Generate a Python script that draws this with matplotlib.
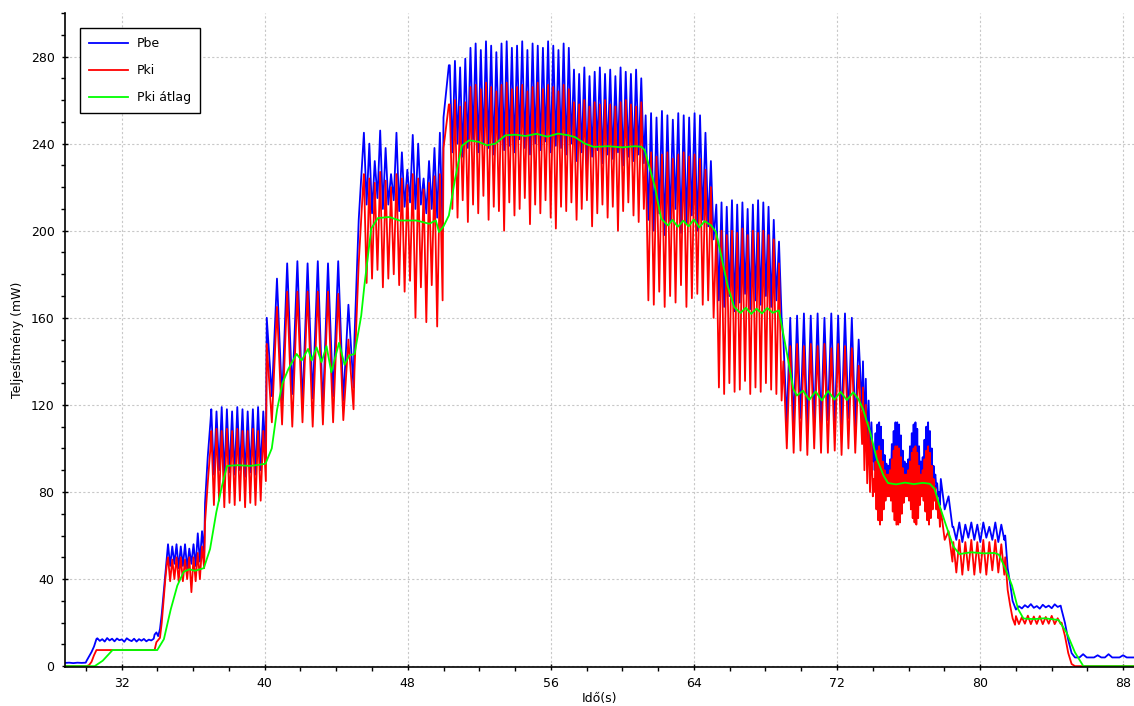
import numpy as np
import matplotlib.pyplot as plt
from matplotlib.ticker import MultipleLocator

# --- Pbe / Pki read off the picture, chunk by chunk (time span + sampled values) ---
# flat / transition chunks
pbe_a = [1.5, 1.6, 1.4, 1.6, 1.5, 1.6]
pki_a = [0.0, 0.0]
pbe_b = [2.5, 4.5, 6.5, 9.0, 12.5]
pki_b = [0.0, 0.5, 2.0, 5.0, 7.4]
pbe_c = [12.8, 11.6, 12.4, 11.3, 12.9, 11.8, 12.6, 11.4, 12.7, 11.9, 12.3, 11.2,
         12.8, 12.0, 11.5, 12.6, 11.3, 12.4, 11.7, 12.5, 11.4, 12.2, 11.8, 12.6]
pki_c = [7.4, 7.4]
pbe_d = [14.5, 15.5, 13.8, 17.0, 24.0, 33.0, 42.0, 51.0]
pki_d = [7.4, 11.0, 12.0, 13.0, 20.0, 30.0, 40.0, 48.0]

# oscillating chunks: peaks (hi) and troughs (lo)
pbe_e_hi = [56, 55, 56, 55, 56, 54, 56, 61, 62]
pbe_e_lo = [46, 47, 45, 46, 45, 47, 46, 48, 52]
pki_e_hi = [50, 49, 50, 50, 49, 50, 50, 52, 55]
pki_e_lo = [39, 40, 39, 39, 40, 34, 39, 40, 45]

pbe_f = [75, 96, 112]
pki_f = [66, 84, 100]

pbe_g_hi = [118, 117, 119, 118, 117, 119, 118, 117, 118, 119, 117]
pbe_g_lo = [88, 90, 87, 89, 88, 90, 87, 89, 88, 90, 95]
pki_g_hi = [108, 109, 108, 109, 108, 109, 108, 108, 109, 108, 108]
pki_g_lo = [74, 76, 73, 75, 74, 76, 73, 75, 74, 76, 85]

pbe_h_hi = [160, 178, 185, 186, 185, 186, 185, 186, 166]
pbe_h_lo = [124, 122, 125, 120, 123, 118, 124, 122, 128]
pki_h_hi = [148, 165, 172, 172, 172, 172, 172, 171, 150]
pki_h_lo = [112, 111, 110, 112, 110, 111, 112, 113, 118]

pbe_i = [150, 205, 238]
pki_i = [135, 185, 220]

pbe_j_hi = [245, 240, 232, 246, 238, 226, 245, 236, 228, 244, 240, 224, 232, 238, 245]
pbe_j_lo = [212, 208, 215, 210, 212, 214, 209, 211, 213, 210, 212, 208, 210, 206, 200]
pki_j_hi = [226, 224, 222, 227, 223, 220, 226, 224, 221, 226, 224, 219, 222, 225, 226]
pki_j_lo = [176, 178, 182, 174, 178, 180, 175, 172, 177, 160, 174, 158, 175, 156, 168]

pbe_k = [252, 276]
pki_k = [238, 258]

pbe_l_hi = [276, 278, 275, 279, 284, 286, 283, 287, 285, 282,
            286, 287, 284, 285, 287, 283, 286, 285, 284, 287,
            285, 283, 286, 284, 274, 272, 275, 271, 273, 275,
            272, 274, 271, 275, 273, 272, 274, 270]
pbe_l_lo = [236, 240, 234, 238, 242, 236, 240, 238, 235, 241,
            237, 239, 236, 242, 238, 235, 240, 237, 241, 236,
            239, 238, 235, 240, 232, 236, 230, 234, 237, 231,
            235, 233, 236, 230, 234, 232, 235, 231]
pki_l_hi = [258, 260, 257, 259, 266, 267, 265, 268, 266, 264,
            267, 268, 265, 266, 267, 264, 266, 268, 265, 267,
            266, 264, 267, 265, 259, 258, 260, 257, 259, 258,
            260, 258, 257, 259, 260, 258, 257, 259]
pki_l_lo = [210, 206, 214, 204, 212, 208, 216, 205, 211, 209,
            200, 213, 207, 210, 215, 203, 212, 208, 214, 206,
            201, 211, 209, 213, 205, 210, 214, 202, 208, 212,
            206, 211, 200, 209, 213, 207, 204, 210]

pbe_n_hi = [253, 254, 252, 255, 253, 251, 254, 253, 252, 254, 253, 245, 232]
pbe_n_lo = [205, 200, 208, 198, 204, 210, 199, 203, 207, 200, 205, 202, 196]
pki_n_hi = [235, 236, 234, 235, 236, 233, 235, 236, 234, 235, 233, 228, 220]
pki_n_lo = [168, 166, 172, 165, 170, 167, 175, 165, 169, 171, 166, 168, 160]

pbe_p_hi = [212, 213, 211, 214, 212, 213, 210, 212, 214, 213, 211, 205, 195]
pbe_p_lo = [168, 165, 170, 163, 167, 171, 164, 168, 166, 170, 165, 168, 160]
pki_p_hi = [199, 200, 198, 200, 199, 201, 198, 200, 199, 200, 198, 196, 185]
pki_p_lo = [128, 125, 130, 126, 127, 131, 125, 128, 126, 130, 127, 125, 122]

pbe_r_hi = [150, 160, 161, 162, 161, 162, 160, 162, 161, 162, 160, 150]
pbe_r_lo = [112, 110, 114, 108, 112, 110, 113, 109, 111, 114, 110, 118]
pki_r_hi = [140, 147, 148, 147, 148, 147, 148, 146, 148, 147, 146, 138]
pki_r_lo = [100, 98, 99, 97, 100, 98, 98, 99, 97, 100, 98, 102]

pbe_s = [140, 108, 132, 100, 122, 96, 112, 94]
pki_s = [128, 90, 120, 84, 112, 80, 104, 78]

pbe_t_hi = [100, 107, 111, 112, 110, 104, 97, 93, 92, 95, 102, 108, 112, 112, 111, 106, 99, 94, 93,
            95, 101, 107, 111, 112, 109, 101, 94, 96, 104, 110, 112, 108, 100, 92, 88, 84, 80]
pbe_t_lo = [90, 82, 77, 75, 77, 82, 86, 88, 88, 86, 81, 77, 75, 75, 76, 80, 85, 88, 88,
            86, 82, 78, 76, 75, 78, 84, 88, 86, 81, 77, 75, 78, 82, 86, 82, 78, 74]
pki_t_hi = [86, 94, 99, 101, 99, 94, 90, 88, 88, 90, 95, 99, 101, 101, 100, 96, 91, 88, 88,
            90, 94, 98, 100, 101, 98, 92, 88, 90, 95, 99, 101, 98, 92, 86, 82, 78, 74]
pki_t_lo = [80, 72, 67, 65, 67, 72, 76, 78, 78, 76, 71, 67, 65, 65, 66, 70, 75, 78, 78,
            76, 72, 68, 66, 65, 68, 74, 78, 76, 71, 67, 65, 68, 72, 76, 72, 68, 64]

pbe_u = [86, 72, 78, 64]
pki_u = [72, 58, 62, 48]

pbe_v_hi = [64, 66, 65, 66, 65, 66, 64, 66, 65]
pbe_v_lo = [58, 57, 59, 58, 57, 59, 58, 57, 58]
pki_v_hi = [57, 58, 57, 58, 57, 58, 57, 58, 56]
pki_v_lo = [43, 42, 44, 42, 43, 42, 44, 43, 42]

pbe_w = [60, 45, 38, 30, 27]
pki_w = [50, 35, 28, 22, 19]

pbe_x = [26, 27.5, 26.5, 28, 27, 28.5, 26.8, 27.6, 26.4, 28.2, 27, 27.8, 26.6, 28.4, 27.2, 27.8]
pki_x_hi = [23, 22.5, 23.2, 22.8, 23, 22.6, 23.1, 22]
pki_x_lo = [19.3, 19.5, 19.3, 19.4, 19.3, 19.5, 19.3, 19.4]

pbe_y = [26, 20, 12, 6, 4]
pki_y = [20, 14, 6, 1, 0]

pbe_z = [4, 4, 5.5, 4, 4, 4, 5, 4, 4, 5.5, 4, 4, 4, 5, 4, 4, 4]
pki_z = [0.0, 0.0]

# --- Pki átlag (moving average) ---
green_t = [28.84, 30.5, 30.95, 31.5, 34.0,
           34.37, 34.75, 35.12, 35.48, 35.8,
           36.1, 36.4, 36.6, 36.95, 37.3,
           37.62, 37.9, 38.5, 39.2, 39.7,
           40.05, 40.4, 40.7, 41.0, 41.33,
           41.79, 42.07, 42.43, 42.63, 42.9,
           43.18, 43.46, 43.73, 44.16, 44.47,
           44.73, 45.03, 45.4, 45.58, 45.96,
           46.33, 46.97, 47.53, 48.47, 49.2,
           49.57, 49.75, 50.0, 50.3, 50.65,
           51.03, 51.43, 51.97, 52.43, 52.9,
           53.46, 54.0, 54.6, 55.2, 55.8,
           56.4, 57.0, 57.35, 57.9, 58.4,
           59.2, 60.0, 60.7, 61.05, 61.25,
           61.43, 61.8, 62.17, 62.55, 62.8,
           63.1, 63.4, 63.7, 64.0, 64.3,
           64.6, 64.95, 65.23, 65.6, 65.88,
           66.25, 66.6, 66.9, 67.2, 67.5,
           67.8, 68.1, 68.4, 68.75, 69.22,
           69.55, 69.75, 70.1, 70.45, 70.8,
           71.15, 71.5, 71.85, 72.2, 72.55,
           72.9, 73.2, 73.45, 73.85, 74.22,
           74.6, 74.85, 75.3, 75.8, 76.3,
           76.8, 77.18, 77.45, 77.73, 78.1,
           78.5, 78.84, 79.5, 80.2, 80.8,
           81.05, 81.4, 81.78, 82.12, 82.42,
           83.0, 83.6, 84.1, 84.38, 84.83,
           85.3, 85.77, 88.6]
green_v = [0, 0, 2.5, 7.4, 7.4,
           12.4, 26, 37, 43.4, 44.5,
           43.8, 44.5, 45, 53.8, 70.7,
           82.9, 92, 92.3, 92, 92.5,
           93, 100, 118, 130, 136.5,
           143.4, 140.4, 145.7, 140.4, 146.5,
           139.6, 147, 135, 148.5, 138.4,
           142.7, 143.4, 161, 175, 201,
           205.8, 206.3, 204.7, 204.7, 203.2,
           204.7, 199.4, 202, 207, 224,
           239, 241.5, 240.8, 239.2, 240,
           243.8, 244.1, 243.5, 244.5, 243.2,
           244.6, 243.8, 243, 240, 238.5,
           238.8, 238.3, 238.8, 238.6, 237,
           231.5, 220.8, 205.5, 202.4, 205,
           201.8, 204.6, 202, 205.2, 201.5,
           204.4, 202.5, 199.4, 185.6, 174.8,
           164.9, 162.2, 164.6, 161.8, 164.2,
           162, 164.5, 162.3, 163.4, 142.7,
           127.4, 124.3, 126.5, 122.3, 126.2,
           122, 126.4, 122.4, 126, 122.2,
           125.8, 122.6, 118, 107.5, 95.2,
           87.5, 84.1, 83.5, 84.3, 83.6,
           84.2, 83.8, 81.4, 73.7, 64.5,
           55, 51.5, 52.3, 51.8, 52,
           51.2, 45, 37, 26.2, 21.9,
           21.6, 22, 21.5, 21.2, 15.5,
           6.3, 0, 0]


def zigzag(hi, lo):
    out = []
    for a, b in zip(hi, lo):
        out += [a, b]
    return out


chunks = [
    ((28.84, 30.0), pbe_a, pki_a),
    ((30.05, 30.6), pbe_b, pki_b),
    ((30.65, 33.8), pbe_c, pki_c),
    ((33.85, 34.55), pbe_d, pki_d),
    ((34.6, 36.62), zigzag(pbe_e_hi, pbe_e_lo), zigzag(pki_e_hi, pki_e_lo)),
    ((36.67, 36.97), pbe_f, pki_f),
    ((37.02, 40.07), zigzag(pbe_g_hi, pbe_g_lo), zigzag(pki_g_hi, pki_g_lo)),
    ((40.12, 44.97), zigzag(pbe_h_hi, pbe_h_lo), zigzag(pki_h_hi, pki_h_lo)),
    ((45.02, 45.5), pbe_i, pki_i),
    ((45.55, 49.95), zigzag(pbe_j_hi, pbe_j_lo), zigzag(pki_j_hi, pki_j_lo)),
    ((50.0, 50.3), pbe_k, pki_k),
    ((50.35, 61.2), zigzag(pbe_l_hi, pbe_l_lo), zigzag(pki_l_hi, pki_l_lo)),
    ((61.3, 65.1), zigzag(pbe_n_hi, pbe_n_lo), zigzag(pki_n_hi, pki_n_lo)),
    ((65.25, 68.9), zigzag(pbe_p_hi, pbe_p_lo), zigzag(pki_p_hi, pki_p_lo)),
    ((69.0, 73.4), zigzag(pbe_r_hi, pbe_r_lo), zigzag(pki_r_hi, pki_r_lo)),
    ((73.45, 74.0), pbe_s, pki_s),
    ((74.05, 77.75), zigzag(pbe_t_hi, pbe_t_lo), zigzag(pki_t_hi, pki_t_lo)),
    ((77.8, 78.45), pbe_u, pki_u),
    ((78.5, 81.35), zigzag(pbe_v_hi, pbe_v_lo), zigzag(pki_v_hi, pki_v_lo)),
    ((81.4, 81.95), pbe_w, pki_w),
    ((82.0, 84.5), pbe_x, zigzag(pki_x_hi, pki_x_lo)),
    ((84.55, 85.3), pbe_y, pki_y),
    ((85.35, 88.6), pbe_z, pki_z),
]

t_be, v_be, t_ki, v_ki = [], [], [], []
for (t0, t1), vb, vk in chunks:
    t_be.extend(np.linspace(t0, t1, len(vb)))
    v_be.extend(vb)
    t_ki.extend(np.linspace(t0, t1, len(vk)))
    v_ki.extend(vk)

fig = plt.figure(figsize=(11.34, 7.06), dpi=100)
ax = fig.add_axes([0.0573, 0.0552, 0.9427, 0.9264])

ax.plot(t_be, v_be, color='#0000ff', lw=1.3, label='Pbe')
ax.plot(t_ki, v_ki, color='#ff0000', lw=1.3, label='Pki')
ax.plot(green_t, green_v, color='#00ff00', lw=1.3, label='Pki átlag')

ax.set_xlim(28.84, 88.6)
ax.set_ylim(-0.4, 300)
ax.xaxis.set_major_locator(MultipleLocator(8))
ax.xaxis.set_minor_locator(MultipleLocator(2))
ax.yaxis.set_major_locator(MultipleLocator(40))
ax.yaxis.set_minor_locator(MultipleLocator(10))
ax.tick_params(which='major', direction='inout', length=5, width=1, labelsize=9, colors='black')
ax.tick_params(which='minor', direction='out', length=3, width=1)
ax.tick_params(axis='x', pad=5)
ax.tick_params(axis='y', pad=5)

for side in ['top', 'right']:
    ax.spines[side].set_visible(False)
for side in ['left', 'bottom']:
    ax.spines[side].set_linewidth(1.2)

ax.set_axisbelow(True)
ax.grid(True, which='major', linestyle=(0, (2, 2)), color='#c8c8c8', lw=0.8)

ax.set_xlabel('Idő(s)', fontsize=9, labelpad=1)
ax.set_ylabel('Teljesítmény (mW)', fontsize=9, labelpad=5)

leg = ax.legend(loc='upper left', bbox_to_anchor=(0.014, 0.977), borderaxespad=0,
                fancybox=False, edgecolor='black', framealpha=1, fontsize=9,
                handlelength=3.1, labelspacing=1.1, handletextpad=0.7, borderpad=0.75)
leg.get_frame().set_linewidth(1.0)

fig.savefig('out.png', dpi=100)
